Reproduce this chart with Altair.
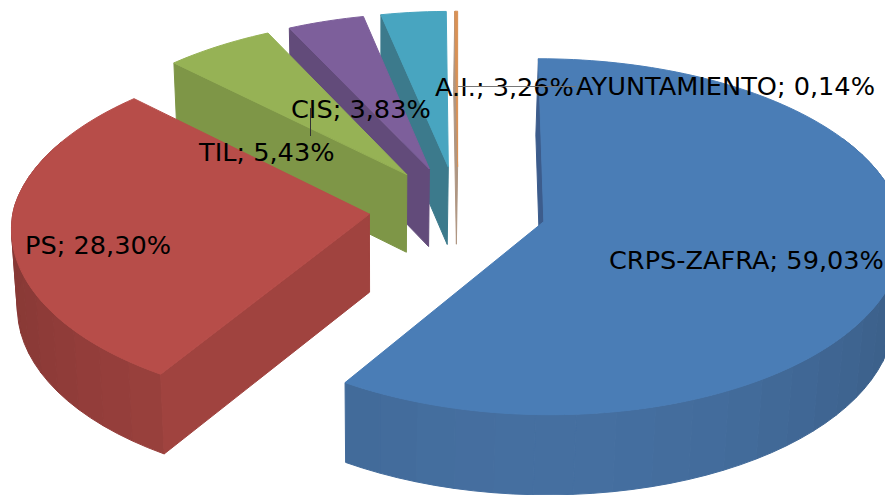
import math
import altair as alt
import pandas as pd

names = ["CRPS-ZAFRA", "PS", "TIL", "CIS", "A.I.", "AYUNTAMIENTO"]
shares = [59.03, 28.30, 5.43, 3.83, 3.26, 0.14]
share_text = ["59,03%", "28,30%", "5,43%", "3,83%", "3,26%", "0,14%"]
top_colors = [(74, 125, 182), (183, 77, 73), (150, 178, 85), (125, 95, 155), (72, 165, 192), (217, 145, 85)]
wall_colors = [(69, 111, 160), (160, 67, 63), (126, 150, 71), (98, 75, 122), (60, 122, 140), (175, 150, 130)]
cut_colors = [(60, 92, 140), (160, 67, 63), (126, 150, 71), (98, 75, 122), (60, 122, 140), (175, 150, 130)]
label_left = [609, 25, 199, 291, 435, 576]
label_mid = [261, 246, 153, 110, 88, 87]

CX, CY, RX, RY, P, EXPLODE = 458, 209, 356, 177, 0.0674, 0.25
VX, SHRINK = 380, 0.984


def hexa(c, f=1.0):
    return "#%02x%02x%02x" % tuple(max(0, min(255, round(v * f))) for v in c)


def top_pt(a, b, r=1.0):
    """b = slice mid angle (explosion direction), a = angle of the rim point."""
    X = EXPLODE * math.sin(b) + r * math.sin(a)
    Z = -EXPLODE * math.cos(b) - r * math.cos(a)
    w = 1 - P * Z
    lean = 6 * max(0, -X) * max(0, -Z)
    return CX + RX * X / w + lean, CY + RY * Z / w + 5 * max(0, -Z) + 1.5 * max(0, Z), Z


def low_pt(a, b, r=1.0):
    x, y, Z = top_pt(a, b, r)
    return VX + (x - VX) * SHRINK, y + 78 + 2 * Z


rows = []
pid = 0


def poly(points, col):
    global pid
    for i, (x, y) in enumerate(points):
        rows.append({"pid": pid, "i": i, "x": x, "y": y, "col": col})
    pid += 1


total = sum(shares)
spans = []
acc = 0.0
for v in shares:
    spans.append((acc / total * 2 * math.pi, (acc + v) / total * 2 * math.pi))
    acc += v

for k in range(len(names) - 1, -1, -1):
    a0, a1 = spans[k]
    mid = (a0 + a1) / 2
    steps = max(1, int((a1 - a0) / math.radians(6)))
    if k < 2:
        for s in range(steps):
            t0 = a0 + (a1 - a0) * s / steps
            t1 = a0 + (a1 - a0) * (s + 1) / steps
            if -math.cos((t0 + t1) / 2) < -0.45:
                continue
            u = abs(math.sin((t0 + t1) / 2))
            f = 1 - 0.15 * u * u
            m = (t0 + t1) / 2
            pts = [top_pt(t0, mid)[:2], top_pt(m, mid)[:2], top_pt(t1, mid)[:2],
                   low_pt(t1, mid), low_pt(m, mid), low_pt(t0, mid)]
            poly(pts, hexa(wall_colors[k], f))
    apex = (a0, mid, 0.0)
    poly([top_pt(a0, mid)[:2], top_pt(*apex)[:2], low_pt(*apex), low_pt(a0, mid)], hexa(cut_colors[k]))
    n = max(2, int((a1 - a0) / math.radians(1.5)))
    rim = [top_pt(a0 + (a1 - a0) * j / n, mid)[:2] for j in range(n + 1)]
    poly([top_pt(a0, mid, 0.0)[:2]] + rim, hexa(top_colors[k]))

faces = pd.DataFrame(rows)
labels = pd.DataFrame({
    "text": [f"{n}; {s}" for n, s in zip(names, share_text)],
    "x": label_left,
    "y": label_mid,
})
leaders = pd.DataFrame({
    "x": [310.5, 458],
    "x2": [310.5, 576],
    "y": [108, 86.5],
    "y2": [136, 86.5],
    "col": ["#333333", "#777777"],
})

xs = alt.Scale(domain=[8, 885], range=[0, 877], nice=False, zero=False)
ys = alt.Scale(domain=[8, 495], range=[0, 487], nice=False, zero=False)
X = alt.X("x:Q", scale=xs, axis=None)
Y = alt.Y("y:Q", scale=ys, axis=None)

shapes = alt.Chart(faces).mark_line(interpolate="linear-closed", strokeWidth=1, strokeJoin="round").encode(
    x=X, y=Y,
    detail="pid:N",
    order="i:Q",
    fill=alt.Fill("col:N", scale=None),
    stroke=alt.Stroke("col:N", scale=None),
)
text = alt.Chart(labels).mark_text(
    align="left", baseline="middle", font="DejaVu Sans", fontSize=25.6, color="#000000"
).encode(x=X, y=Y, text="text:N")
rules = alt.Chart(leaders).mark_rule(strokeWidth=1).encode(
    x=X, y=Y, x2="x2:Q", y2="y2:Q", color=alt.Color("col:N", scale=None)
)

chart = alt.layer(shapes, text, rules).properties(
    width=877, height=487, padding=0, autosize=alt.AutoSizeParams(type="none"),
).configure_view(stroke=None)

chart.save("out.html", embed_options={"renderer": "svg", "actions": False})
